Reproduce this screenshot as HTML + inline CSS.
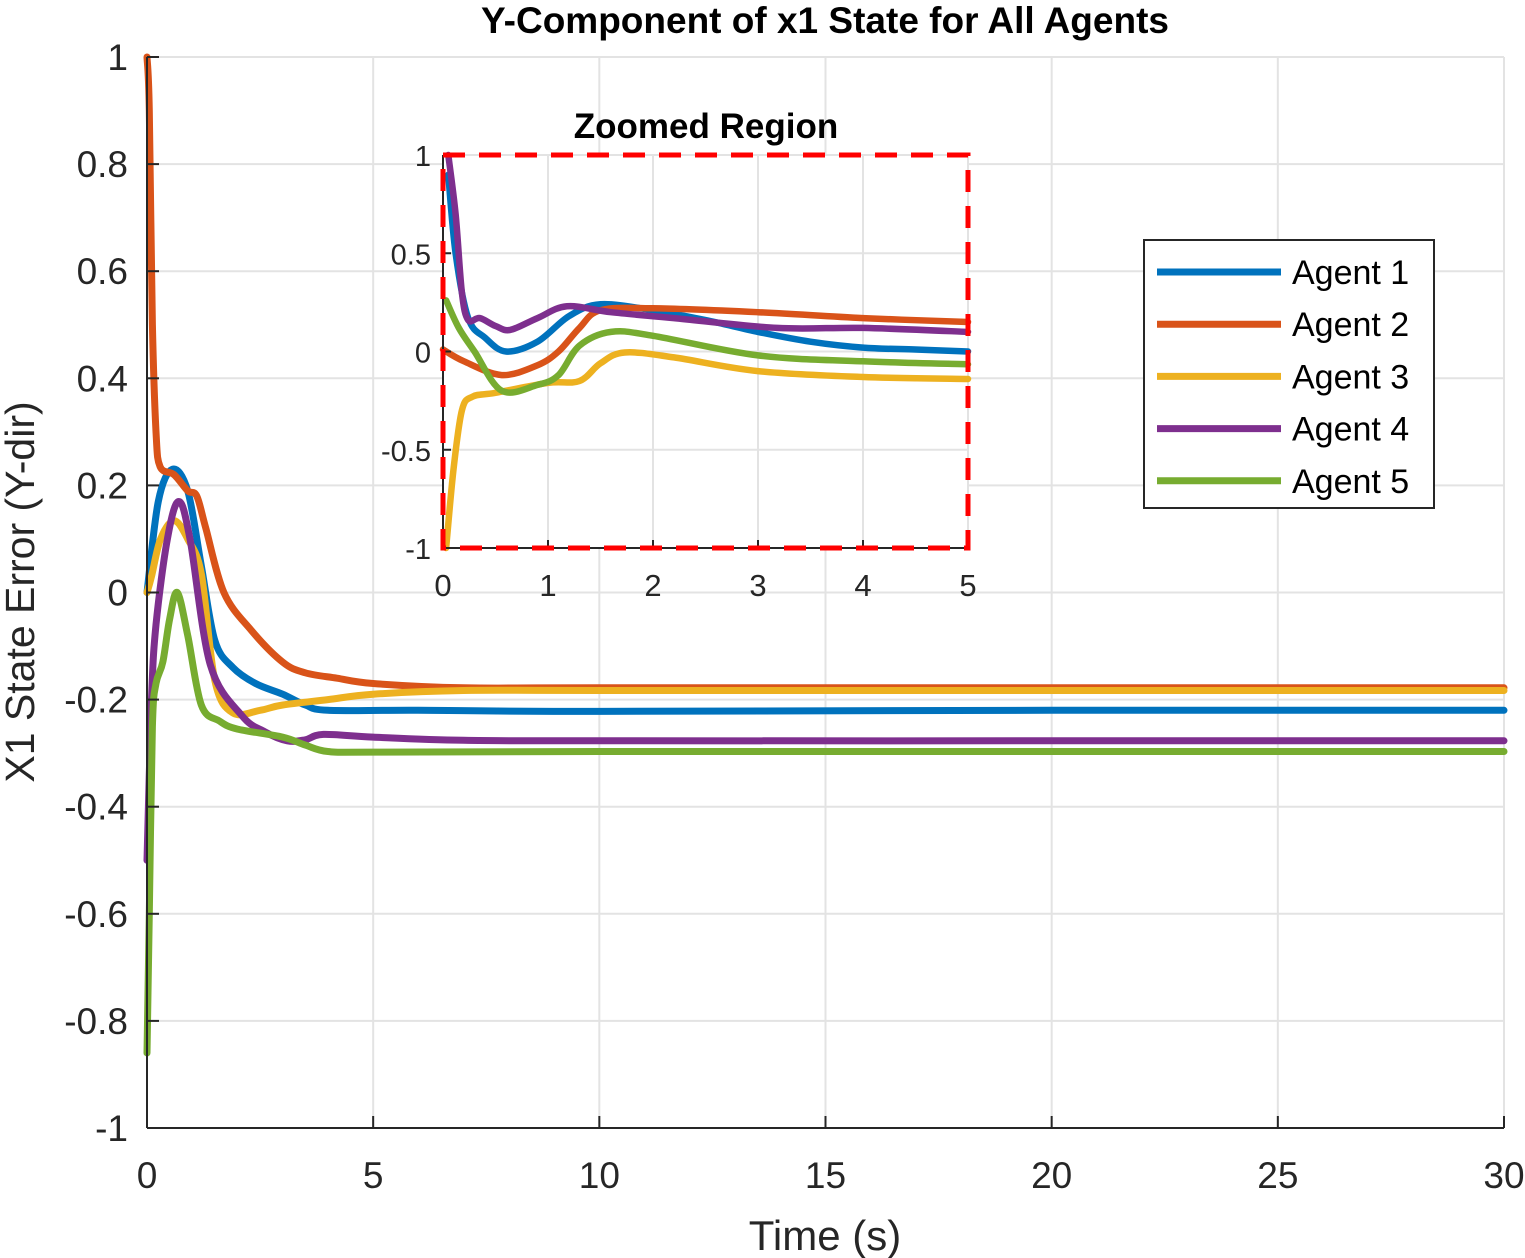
<!DOCTYPE html>
<html><head><meta charset="utf-8">
<style>
html,body{margin:0;padding:0;background:#fff;}
svg{display:block;font-family:"Liberation Sans",Arial,sans-serif;}
</style></head>
<body>
<svg id="chart" width="1525" height="1258" viewBox="0 0 1525 1258">
  <rect x="0" y="0" width="1525" height="1258" fill="#fff"/>
  <g id="main-grid"></g>
  <g id="main-lines"></g>
  <g id="main-axes"></g>
  <text x="825" y="33" text-anchor="middle" font-size="37" font-weight="bold" fill="#000">Y-Component of x1 State for All Agents</text>
  <text x="825" y="1250" text-anchor="middle" font-size="42" fill="#262626">Time (s)</text>
  <text transform="translate(34,592) rotate(-90)" text-anchor="middle" font-size="41" fill="#262626">X1 State Error (Y-dir)</text>
  <g id="inset">
    <rect x="443" y="155" width="525" height="393" fill="#fff"/>
    <g id="inset-grid"></g>
    <g id="inset-lines"></g>
    <g id="inset-axes"></g>
    <rect x="443" y="155" width="525" height="393" fill="none" stroke="#ff0000" stroke-width="5" stroke-dasharray="22,14"/>
    <text x="706" y="138" text-anchor="middle" font-size="35" font-weight="bold" fill="#000">Zoomed Region</text>
  </g>
  <g id="legend">
    <rect x="1144" y="240" width="290" height="268" fill="#fff" stroke="#262626" stroke-width="2"/>
  </g>
</svg>
<script>
const NS="http://www.w3.org/2000/svg";
const agents=["Agent 1","Agent 2","Agent 3","Agent 4","Agent 5"];
const colors=["#0072BD","#D95319","#EDB120","#7E2F8E","#77AC30"];
// main chart data
const mainT1=[0,0.25,0.56,0.9,1.2,1.5,1.9,2.4,3.0,3.5,4.0,6,10,20,30];
const mainV1=[0,0.17,0.23,0.19,0.05,-0.09,-0.14,-0.17,-0.19,-0.21,-0.22,-0.22,-0.222,-0.22,-0.22];
const mainT2=[0,0.05,0.12,0.2,0.29,0.6,0.9,1.1,1.3,1.7,2.3,3.0,3.5,4.2,5,7,10,20,30];
const mainV2=[1.0,0.9,0.5,0.3,0.235,0.22,0.19,0.18,0.12,0.0,-0.07,-0.13,-0.15,-0.16,-0.17,-0.178,-0.178,-0.178,-0.178];
const mainT3=[0,0.1,0.3,0.6,0.9,1.2,1.5,1.9,2.5,3.0,4,5,7,10,20,30];
const mainV3=[0,0.03,0.1,0.134,0.1,0.035,-0.165,-0.225,-0.22,-0.21,-0.2,-0.19,-0.183,-0.183,-0.183,-0.183];
const mainT4=[0,0.1,0.2,0.45,0.7,0.95,1.4,2.1,2.6,3.1,3.5,3.9,5,7,10,20,30];
const mainV4=[-0.5,-0.2,-0.06,0.1,0.17,0.1,-0.135,-0.23,-0.26,-0.277,-0.275,-0.265,-0.27,-0.276,-0.277,-0.277,-0.277];
const mainT5=[0,0.05,0.12,0.2,0.35,0.5,0.67,0.9,1.2,1.6,2.0,3.0,3.5,4.0,5,10,20,30];
const mainV5=[-0.86,-0.6,-0.25,-0.17,-0.13,-0.05,0.0,-0.08,-0.21,-0.24,-0.255,-0.27,-0.285,-0.297,-0.298,-0.297,-0.297,-0.297];
// inset data
const insT1=[0.05,0.12,0.24,0.4,0.6,0.9,1.2,1.5,2.0,2.5,3.0,3.5,4.0,4.5,5];
const insV1=[0.9,0.5,0.17,0.07,0.0,0.05,0.18,0.24,0.21,0.16,0.1,0.05,0.02,0.01,0.0];
const insT2=[0,0.2,0.56,0.9,1.1,1.3,1.5,2.0,3.0,4.0,5];
const insV2=[0.01,-0.05,-0.12,-0.07,0.0,0.12,0.21,0.22,0.2,0.17,0.15];
const insT3=[0.03,0.1,0.18,0.28,0.5,1.0,1.3,1.5,1.73,2.2,3.0,4.0,5];
const insV3=[-1.0,-0.6,-0.3,-0.23,-0.21,-0.16,-0.15,-0.06,-0.005,-0.03,-0.1,-0.13,-0.14];
const insT4=[0.05,0.12,0.18,0.24,0.35,0.5,0.64,0.9,1.18,1.6,2.2,3.18,4.0,5];
const insV4=[1.0,0.7,0.3,0.16,0.17,0.13,0.11,0.17,0.23,0.2,0.17,0.12,0.12,0.1];
const insT5=[0.03,0.15,0.3,0.56,0.9,1.1,1.3,1.6,2.0,3.0,4.0,5];
const insV5=[0.26,0.12,0.0,-0.2,-0.17,-0.12,0.03,0.1,0.08,-0.02,-0.05,-0.065];
const mainXTicks=[0,5,10,15,20,25,30];
const mainYTicks=[-1,-0.8,-0.6,-0.4,-0.2,0,0.2,0.4,0.6,0.8,1];
const insXTicks=[0,1,2,3,4,5];
const insYTicks=[-1,-0.5,0,0.5,1];

const mainX=t=>147+(t-0)/30*(1504-147);
const mainY=v=>592.5-v*535.5;
const insX=t=>443+t/5*525;
const insY=v=>351.5-v*196.5;

function el(tag,attrs,parent){const e=document.createElementNS(NS,tag);for(const k in attrs)e.setAttribute(k,attrs[k]);parent.appendChild(e);return e;}
function smoothPath(xs,ys){
  const p=xs.map((x,i)=>[x,ys[i]]);
  let d="M"+p[0][0].toFixed(1)+","+p[0][1].toFixed(1);
  for(let i=0;i<p.length-1;i++){
    const p0=p[i-1]||p[i],p1=p[i],p2=p[i+1],p3=p[i+2]||p[i+1];
    const c1=[p1[0]+(p2[0]-p0[0])/6,p1[1]+(p2[1]-p0[1])/6];
    const c2=[p2[0]-(p3[0]-p1[0])/6,p2[1]-(p3[1]-p1[1])/6];
    d+=" C"+c1[0].toFixed(1)+","+c1[1].toFixed(1)+" "+c2[0].toFixed(1)+","+c2[1].toFixed(1)+" "+p2[0].toFixed(1)+","+p2[1].toFixed(1);
  }
  return d;
}
function fmt(v){return String(v);}

const mg=document.getElementById("main-grid"), ma=document.getElementById("main-axes");
mainXTicks.forEach(t=>{
  const g=el("line",{x1:mainX(t),x2:mainX(t),y1:mainY(1),y2:mainY(-1),stroke:"#e3e3e3","stroke-width":2},mg);
  
  
  const tk=el("line",{x1:mainX(t),x2:mainX(t),y1:mainY(-1),y2:mainY(-1)-12,stroke:"#262626","stroke-width":2},ma);
  
  
  const tx=el("text",{x:mainX(t),y:1188,"text-anchor":"middle","font-size":37,fill:"#262626"},ma);
  tx.textContent=t;
  
  
});
mainYTicks.forEach(v=>{
  const g=el("line",{x1:mainX(0),x2:mainX(30),y1:mainY(v),y2:mainY(v),stroke:"#e3e3e3","stroke-width":2},mg);
  
  
  const tk=el("line",{x1:mainX(0),x2:mainX(0)+12,y1:mainY(v),y2:mainY(v),stroke:"#262626","stroke-width":2},ma);
  
  
  const tx=el("text",{x:128,y:mainY(v)+13,"text-anchor":"end","font-size":37,fill:"#262626"},ma);
  tx.textContent=fmt(v);
  
  
});
const axL=el("line",{x1:mainX(0),x2:mainX(0),y1:mainY(1),y2:mainY(-1),stroke:"#262626","stroke-width":2},ma);


const axB=el("line",{x1:mainX(0),x2:mainX(30),y1:mainY(-1),y2:mainY(-1),stroke:"#262626","stroke-width":2},ma);



const mainSeries=[[mainT1,mainV1],[mainT2,mainV2],[mainT3,mainV3],[mainT4,mainV4],[mainT5,mainV5]];
const ml=document.getElementById("main-lines");
mainSeries.forEach((s,i)=>{
  const p=el("path",{d:smoothPath(s[0].map(mainX),s[1].map(mainY)),fill:"none",stroke:colors[i],"stroke-width":7,"stroke-linejoin":"round","stroke-linecap":"round"},ml);
  
  
});

const ig=document.getElementById("inset-grid"), ia=document.getElementById("inset-axes");
insXTicks.forEach(t=>{
  const g=el("line",{x1:insX(t),x2:insX(t),y1:insY(1),y2:insY(-1),stroke:"#e3e3e3","stroke-width":2},ig);
  
  
  const tk=el("line",{x1:insX(t),x2:insX(t),y1:insY(-1),y2:insY(-1)-8,stroke:"#262626","stroke-width":2},ia);
  
  
  const tx=el("text",{x:insX(t),y:596,"text-anchor":"middle","font-size":31,fill:"#262626"},ia);
  tx.textContent=t;
  
  
});
insYTicks.forEach(v=>{
  const g=el("line",{x1:insX(0),x2:insX(5),y1:insY(v),y2:insY(v),stroke:"#e3e3e3","stroke-width":2},ig);
  
  
  const tk=el("line",{x1:insX(0),x2:insX(0)+8,y1:insY(v),y2:insY(v),stroke:"#262626","stroke-width":2},ia);
  
  
  const tx=el("text",{x:431,y:insY(v)+11,"text-anchor":"end","font-size":29,fill:"#262626"},ia);
  tx.textContent=fmt(v);
  
  
});
const iaL=el("line",{x1:insX(0),x2:insX(0),y1:insY(1),y2:insY(-1),stroke:"#262626","stroke-width":2},ia);


const iaB=el("line",{x1:insX(0),x2:insX(5),y1:insY(-1),y2:insY(-1),stroke:"#262626","stroke-width":2},ia);


const insSeries=[[insT1,insV1],[insT2,insV2],[insT3,insV3],[insT4,insV4],[insT5,insV5]];
const il=document.getElementById("inset-lines");
[0,1,2,4,3].forEach(i=>{
  const s=insSeries[i];
  const p=el("path",{d:smoothPath(s[0].map(insX),s[1].map(insY)),fill:"none",stroke:colors[i],"stroke-width":6.5,"stroke-linejoin":"round","stroke-linecap":"round"},il);
  
  
});

const lg=document.getElementById("legend");
agents.forEach((a,i)=>{
  const y=272+i*52.2;
  const ln=el("line",{x1:1157,x2:1281,y1:y,y2:y,stroke:colors[i],"stroke-width":7},lg);
  
  
  const tx=el("text",{x:1292,y:y+12,"font-size":34,fill:"#000"},lg);
  tx.textContent=a;
  
  
});
</script>
</body></html>
